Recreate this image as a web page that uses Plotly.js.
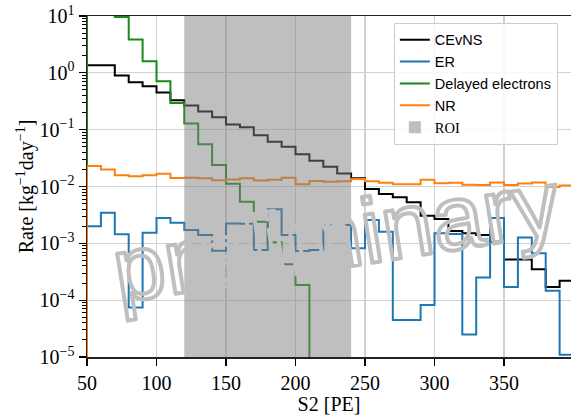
<!DOCTYPE html>
<html>
<head>
<meta charset="utf-8">
<script src="https://cdn.plot.ly/plotly-3.0.1.min.js"></script>
<style>
  html, body { margin: 0; padding: 0; background: #fff; overflow: hidden; }
  #chart { width: 571px; height: 415px; }
</style>
</head>
<body>
<div id="chart"></div>
<script>
// Histogram bin edges in S2 [PE], 10 PE wide
const binEdges = [50, 60, 70, 80, 90, 100, 110, 120, 130, 140, 150, 160, 170, 180, 190,
  200, 210, 220, 230, 240, 250, 260, 270, 280, 290, 300, 310, 320, 330, 340, 350,
  360, 370, 380, 390, 400];

// Rates per bin [kg^-1 day^-1]
const cevns = [1.36, 1.36, 0.897, 0.684, 0.58, 0.451, 0.33, 0.266, 0.209, 0.166,
  0.123, 0.11, 0.080, 0.061, 0.050, 0.037, 0.0283, 0.0222, 0.017, 0.0139,
  0.009, 0.00735, 0.00645, 0.0053, 0.00306, 0.00267, 0.00164, 0.0015, 0.0014, 0.00107,
  0.00052, 0.00052, 0.00035, 0.00017, 0.00022];

const er = [0.0020, 0.00345, 0.00144, 7.4e-5, 0.00153, 0.0028, 0.0023, 0.00171, 0.0014, 0.00074,
  0.00224, 0.0022, 0.00076, 0.00396, 0.0014, 0.00073, 0.00076, 0.0021, 0.0021, 0.00082,
  0.00257, 0.0016, 4.5e-5, 4.5e-5, 8.2e-5, 0.0015, 0.00146, 2.5e-5, 2.5e-4, 0.0028,
  1.7e-4, 0.00127, 6.7e-4, 1.47e-4, 1.09e-5];

const delayedElectrons = [40, 20, 9.6, 3.85, 1.6, 0.71, 0.296, 0.128, 0.0556, 0.024,
  0.0112, 0.00538, 0.0024, 0.00105, 0.00043, 0.000185, 0, 0, 0, 0,
  0, 0, 0, 0, 0, 0, 0, 0, 0, 0,
  0, 0, 0, 0, 0];

const nr = [0.0229, 0.020, 0.0158, 0.0152, 0.0158, 0.0167, 0.0141, 0.0142, 0.0139, 0.0129,
  0.0133, 0.0139, 0.0128, 0.0131, 0.0142, 0.011, 0.0125, 0.0121, 0.0124, 0.0135,
  0.0124, 0.0116, 0.011, 0.011, 0.0131, 0.0114, 0.0116, 0.0107, 0.0106, 0.0117,
  0.0106, 0.0113, 0.0117, 0.0098, 0.0104];

// Region of interest in S2 [PE]
const roi = [120, 240];

// Axis ticks
const xTickVals = [50, 100, 150, 200, 250, 300, 350];
const yTickVals = [1e-5, 1e-4, 1e-3, 1e-2, 1e-1, 1, 10];
const yTickText = ['10<sup>−5</sup>', '10<sup>−4</sup>', '10<sup>−3</sup>', '10<sup>−2</sup>',
  '10<sup>−1</sup>', '10<sup>0</sup>', '10<sup>1</sup>'];

// Step outline of a histogram, closed down to the floor at both ends;
// empty bins sit far below the visible log range.
function stepOutline(values) {
  const floor = 1e-9;
  const last = binEdges[binEdges.length - 1];
  const x = [binEdges[0]], y = [floor];
  values.forEach((v, i) => { x.push(binEdges[i]); y.push(v > 0 ? v : floor); });
  const vLast = values[values.length - 1];
  x.push(last); y.push(vLast > 0 ? vLast : floor);
  x.push(last); y.push(floor);
  return { x, y };
}

function histTrace(values, name, color) {
  const s = stepOutline(values);
  return {
    type: 'scatter', mode: 'lines', name: name,
    x: s.x, y: s.y,
    line: { shape: 'hv', color: color, width: 2 },
    hoverinfo: 'skip'
  };
}

const traces = [
  histTrace(cevns, 'CEvNS', '#000000'),
  histTrace(er, 'ER', '#1f77b4'),
  histTrace(delayedElectrons, 'Delayed electrons', '#188a18'),
  histTrace(nr, 'NR', '#ff7f0e')
];

const serif = '"Liberation Serif", "DejaVu Serif", serif';

const layout = {
  width: 571, height: 415,
  margin: { l: 87, r: 0, t: 16, b: 58 },
  paper_bgcolor: '#ffffff', plot_bgcolor: '#ffffff',
  showlegend: true,
  font: { family: serif, size: 20, color: '#000' },
  xaxis: {
    range: [50, 398.2],
    tickvals: xTickVals,
    ticks: 'outside', ticklen: 7, tickwidth: 1.3, tickcolor: '#000',
    showline: true, linecolor: '#222', linewidth: 1.5, mirror: true,
    showgrid: true, gridcolor: '#d2d2d2', gridwidth: 1.2,
    zeroline: false,
    tickfont: { family: serif, size: 20 },
    title: { text: 'S2 [PE]', font: { family: serif, size: 20 }, standoff: 12 }
  },
  yaxis: {
    type: 'log',
    range: [-5, 1],
    tickvals: yTickVals, ticktext: yTickText,
    ticks: 'outside', ticklen: 7, tickwidth: 1.3, tickcolor: '#000',
    minor: { dtick: 'D1', ticks: 'outside', ticklen: 4, tickwidth: 1, tickcolor: '#000', showgrid: false },
    showline: true, linecolor: '#222', linewidth: 1.5,
    showgrid: true, gridcolor: '#d2d2d2', gridwidth: 1.2,
    zeroline: false,
    tickfont: { family: serif, size: 20 },
    title: { text: 'Rate [kg<sup>−1</sup>day<sup>−1</sup>]', font: { family: serif, size: 20 }, standoff: 0 }
  },
  legend: {
    x: 0.634, y: 0.98, xanchor: 'left', yanchor: 'top',
    bgcolor: 'rgba(255,255,255,0.85)', bordercolor: '#cccccc', borderwidth: 1,
    font: { family: '"Liberation Sans", Arial, sans-serif', size: 14.5, color: '#000' },
    itemwidth: 30, tracegroupgap: 0
  },
  shapes: [{
    type: 'rect', xref: 'x', yref: 'paper',
    x0: roi[0], x1: roi[1], y0: 0, y1: 1,
    fillcolor: 'rgba(128,128,128,0.5)', line: { width: 0 },
    layer: 'above',
    showlegend: true, name: '<span style="font-family:Liberation Serif">ROI</span>',
    legendrank: 2000
  }],
  annotations: [{
    xref: 'paper', yref: 'paper', x: 0.515, y: 0.355,
    xanchor: 'center', yanchor: 'middle',
    text: 'preliminary', showarrow: false, textangle: -9,
    font: { family: '"Liberation Sans", Arial, sans-serif', size: 92, color: 'rgba(0,0,0,0)' }
  }]
};

Plotly.newPlot('chart', traces, layout, { staticPlot: true }).then(gd => {
  // Outlined watermark lettering
  gd.querySelectorAll('.annotation-text').forEach(t => {
    t.style.fill = 'none';
    t.style.stroke = '#bfbfbf';
    t.style.strokeWidth = '4px';
    t.style.strokeLinejoin = 'round';
  });
});
</script>
</body>
</html>
